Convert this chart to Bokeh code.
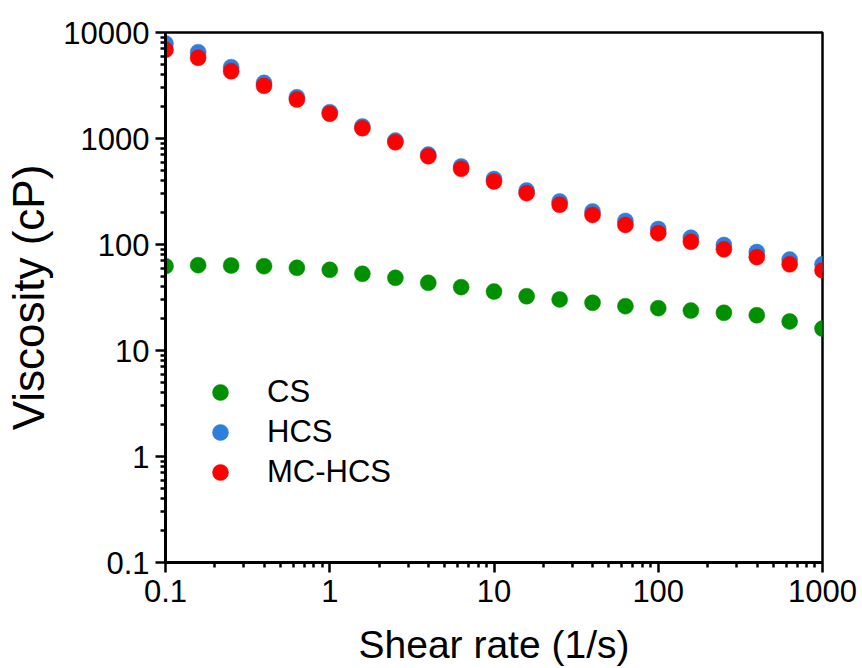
from bokeh.plotting import figure
from bokeh.models import FixedTicker, Legend, LegendItem, Range1d
from bokeh.embed import file_html
from bokeh.resources import INLINE

shear_rate = [0.1, 0.158, 0.251, 0.398, 0.631, 1, 1.58, 2.51, 3.98, 6.31, 10,
              15.8, 25.1, 39.8, 63.1, 100, 158, 251, 398, 631, 1000]
cs = [62.4, 63.8, 63.4, 62.4, 60.3, 57.7, 52.9, 48.5, 43.5, 39.6, 36.0,
      32.5, 30.3, 28.2, 26.2, 25.1, 23.8, 22.7, 21.5, 18.8, 16.1]
hcs = [7870, 6520, 4710, 3350, 2450, 1770, 1300, 955, 705, 545, 415,
       323, 255, 205, 167, 140, 116, 99, 85, 72, 65]
mc_hcs = [6870, 5770, 4310, 3140, 2330, 1710, 1250, 922, 680, 518, 393,
          305, 237, 190, 153, 128, 106, 90, 76, 65, 57]

series_names = ["CS", "HCS", "MC-HCS"]
series_colors = ["#009000", "#2D7FDA", "#FF0000"]

x_ticks = [0.1, 1, 10, 100, 1000]
x_tick_labels = ["0.1", "1", "10", "100", "1000"]
y_ticks = [0.1, 1, 10, 100, 1000, 10000]
y_tick_labels = ["0.1", "1", "10", "100", "1000", "10000"]

FONT = "Liberation Sans"

p = figure(width=862, height=668, x_axis_type="log", y_axis_type="log",
           x_range=Range1d(0.1, 1000), y_range=Range1d(0.1, 10000),
           output_backend="svg", toolbar_location=None,
           min_border_left=165, min_border_right=40, min_border_top=32,
           min_border_bottom=106)
p.grid.visible = False
p.background_fill_color = "white"
p.border_fill_color = "white"
p.outline_line_color = "black"
p.outline_line_width = 2.5


def minors(ticks):
    out = []
    for t in ticks[:-1]:
        out += [t * k for k in range(2, 10)]
    return out


p.xaxis.ticker = FixedTicker(ticks=x_ticks, minor_ticks=minors(x_ticks))
p.yaxis.ticker = FixedTicker(ticks=y_ticks, minor_ticks=minors(y_ticks))
p.xaxis.major_label_overrides = {t: l for t, l in zip(x_ticks, x_tick_labels)}
p.yaxis.major_label_overrides = {t: l for t, l in zip(y_ticks, y_tick_labels)}

for ax in (p.xaxis, p.yaxis):
    ax.axis_line_width = 3
    ax.axis_line_color = "black"
    ax.major_tick_line_width = 2.5
    ax.minor_tick_line_width = 2.5
    ax.major_tick_out = 10
    ax.major_tick_in = 0
    ax.minor_tick_out = 5
    ax.minor_tick_in = 0
    ax.major_label_text_font = FONT
    ax.major_label_text_font_size = "31px"
    ax.major_label_text_color = "black"
    ax.major_label_standoff = 7
    ax.axis_label_text_font = FONT
    ax.axis_label_text_font_style = "normal"
    ax.axis_label_text_color = "black"

p.yaxis.major_label_standoff = 6
p.xaxis.axis_label = "Shear rate (1/s)"
p.xaxis.axis_label_text_font_size = "39px"
p.xaxis.axis_label_standoff = 18
p.yaxis.axis_label = "Viscosity (cP)"
p.yaxis.axis_label_text_font_size = "44px"
p.yaxis.axis_label_standoff = 7

renderers = []
for name, vals, col in zip(series_names, [cs, hcs, mc_hcs], series_colors):
    r = p.scatter(shear_rate, vals, size=16, marker="circle",
                  fill_color=col, line_color=col, line_width=0.5)
    renderers.append(r)

legend = Legend(items=[LegendItem(label=n, renderers=[r]) for n, r in zip(series_names, renderers)],
                location=(35, 70), padding=0, margin=0, spacing=0,
                glyph_width=40, glyph_height=40, label_height=40,
                label_standoff=27, label_text_font=FONT,
                label_text_font_size="31px", label_text_color="black",
                border_line_alpha=0, background_fill_alpha=0)
p.add_layout(legend)

open("out.html", "w").write(file_html(p, INLINE))
